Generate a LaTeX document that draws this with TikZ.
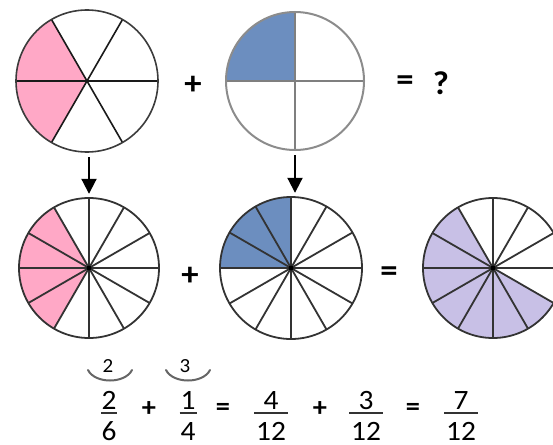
\documentclass[tikz,border=0pt]{standalone}
\usepackage{fontspec}
\setmainfont{Carlito}
\newfontfamily\eqfont[FakeStretch=1.05]{Carlito}
\usetikzlibrary{arrows.meta,calc}
\definecolor{pinkf}{HTML}{FFA8C6}
\definecolor{bluef}{HTML}{6C8EBF}
\definecolor{purplef}{HTML}{C8C0E6}
\definecolor{rimA}{HTML}{1A1A1A}
\definecolor{rimB}{HTML}{7F7F7F}
\definecolor{rimC}{HTML}{333333}
\tikzset{
  disc/.style={circle, inner sep=0pt, minimum size=#1},
  bigsym/.style={font=\eqfont\fontsize{33}{35}\selectfont\bfseries, inner sep=0pt},
  opsym/.style={font=\eqfont\fontsize{27}{29}\selectfont\bfseries, inner sep=0pt},
  digit/.style={font=\eqfont\fontsize{28}{30}\selectfont, anchor=base, inner sep=0pt},
  smalldigit/.style={font=\eqfont\fontsize{20}{22}\selectfont, anchor=base, inner sep=0pt},
  fracline/.style={line width=1.3pt, draw=black!80},
  brace/.style={line width=2pt, draw=black!60, line cap=round},
  downarrow/.style={line width=2pt, -{Triangle[length=15pt,width=15pt]}, shorten <=5pt, shorten >=4pt},
}
\begin{document}
\begin{tikzpicture}[x=1pt,y=-1pt]
\useasboundingbox (0,0) rectangle (553,444);
\clip (0,0) rectangle (553,444);

% ---------- circle nodes (positions) ----------
\node[disc=142pt] (c1) at (87,81) {};
\node[disc=138pt] (c2) at (295,81) {};
\node[disc=140pt] (c4) at (89,268) {};
\node[disc=142pt] (c5) at (291,268) {};
\node[disc=140pt] (c6) at (493,268) {};

% ---------- top left: 2/6 ----------
\fill[pinkf] (c1.center) -- ++(-120:71) arc[start angle=-120, end angle=-240, radius=71] -- cycle;
\foreach \a in {0,60,120}
  \draw[line width=1.6pt, rimA] ($(c1.center)+(\a:71)$) -- ($(c1.center)+(\a+180:71)$);
\draw[line width=1.6pt, rimA!85] (c1.center) circle[radius=71];

% ---------- top right: 1/4 ----------
\fill[bluef] (c2.center) -- ++(-90:69) arc[start angle=-90, end angle=-180, radius=69] -- cycle;
\foreach \a in {0,90}
  \draw[line width=2.2pt, rimB] ($(c2.center)+(\a:69)$) -- ($(c2.center)+(\a+180:69)$);
\draw[line width=2pt, rimB!90] (c2.center) circle[radius=69];

% ---------- bottom left: 4/12 ----------
\fill[pinkf] (c4.center) -- ++(-120:70) arc[start angle=-120, end angle=-240, radius=70] -- cycle;
\foreach \a in {0,30,...,150}
  \draw[line width=1.8pt, rimC] ($(c4.center)+(\a:70)$) -- ($(c4.center)+(\a+180:70)$);
\draw[line width=1.8pt, rimC] (c4.center) circle[radius=70];
\fill[black] (c4.center) circle[radius=2.5];

% ---------- bottom middle: 3/12 ----------
\fill[bluef] (c5.center) -- ++(-90:71) arc[start angle=-90, end angle=-180, radius=71] -- cycle;
\foreach \a in {0,30,...,150}
  \draw[line width=1.8pt, rimC] ($(c5.center)+(\a:71)$) -- ($(c5.center)+(\a+180:71)$);
\draw[line width=1.8pt, rimC] (c5.center) circle[radius=71];
\fill[black] (c5.center) circle[radius=2.5];

% ---------- bottom right: 7/12 ----------
\fill[purplef] (c6.center) -- ++(-120:70) arc[start angle=-120, end angle=-330, radius=70] -- cycle;
\foreach \a in {0,30,...,150}
  \draw[line width=1.8pt, rimC] ($(c6.center)+(\a:70)$) -- ($(c6.center)+(\a+180:70)$);
\draw[line width=1.8pt, rimC] (c6.center) circle[radius=70];
\fill[black] (c6.center) circle[radius=2.5];

% ---------- arrows ----------
\draw[downarrow] (c4.north |- c1.south) -- (c4.north);
\draw[downarrow] (c2.south) -- (c2.south |- c5.north);

% ---------- operators ----------
\node[bigsym] (p1) at (193,85) {+};
\node[bigsym] (e1) at (405,83) {=};
\node[bigsym] (q1) at (441,83) {?};
\node[bigsym] (p2) at (190,276) {+};
\node[bigsym] (e2) at (389,274) {=};

% ---------- equation ----------
\node[opsym] (p3) at (149,409) {+};
\node[opsym] (e3) at (223,409) {=};
\node[opsym] (p4) at (320,409) {+};
\node[opsym] (e4) at (413,409) {=};

\foreach \x/\n/\d/\w/\nm in {109/2/6/16/fa, 188/1/4/17/fb, 271/4/12/34/fc, 366/3/12/34/fd, 461/7/12/34/fe}{
  \node[digit] (\nm n) at (\x,409) {\n};
  \node[digit] (\nm d) at (\x,440) {\d};
  \draw[fracline] (\x-\w/2,413) -- (\x+\w/2,413);
}

% ---------- multipliers ----------
\node[smalldigit] (m1) at (108,372) {2};
\node[smalldigit] (m2) at (185,372) {3};
\draw[brace] (88,370) .. controls (95,384) and (125,384) .. (132,370);
\draw[brace] (166,370) .. controls (173,384) and (203,384) .. (210,370);
\end{tikzpicture}
\end{document}
